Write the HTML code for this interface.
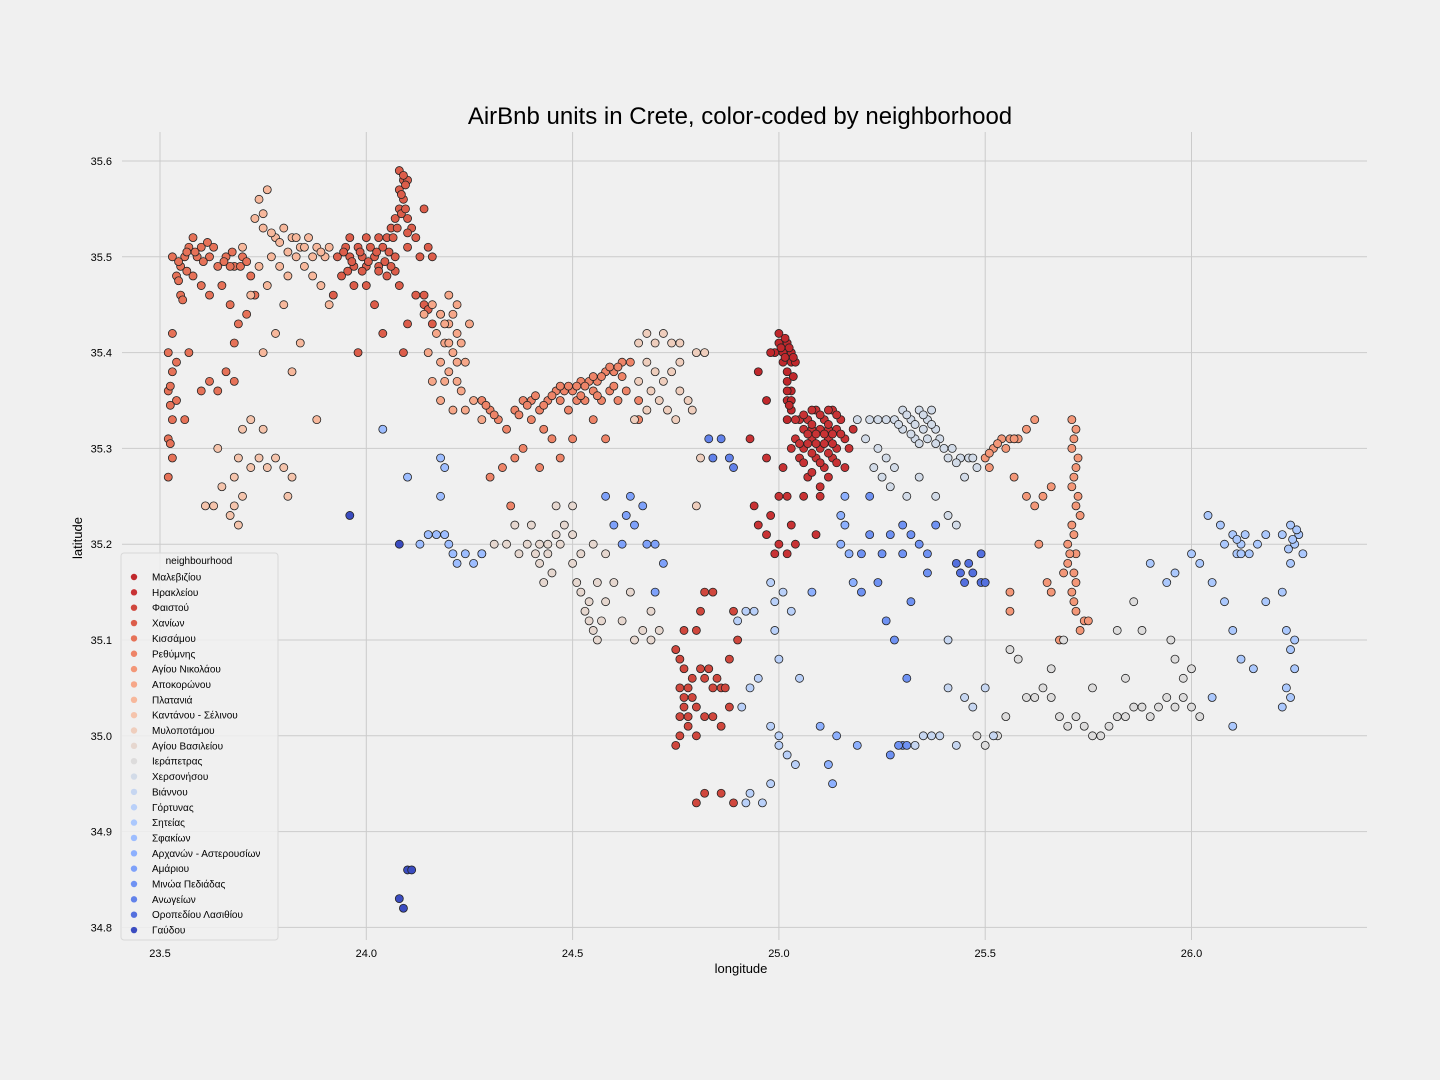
<!DOCTYPE html>
<html><head><meta charset="utf-8">
<style>
html,body{margin:0;padding:0;background:#f0f0f0;}
svg{display:block;font-family:"Liberation Sans","DejaVu Sans",sans-serif;}
</style></head>
<body>
<svg id="chart" width="1440" height="1080" viewBox="0 0 1440 1080">
<rect x="0" y="0" width="1440" height="1080" fill="#f0f0f0"/>
<text x="740" y="124" text-anchor="middle" font-size="24" fill="#000">AirBnb units in Crete, color-coded by neighborhood</text>
<g id="grid"></g>
<g id="ticks"></g>
<g id="points"></g>
<text x="741" y="973" text-anchor="middle" font-size="13" fill="#000">longitude</text>
<text x="82" y="538" text-anchor="middle" font-size="13" fill="#000" transform="rotate(-90 82 538)">latitude</text>
<g id="legend"></g>
</svg>
<script>
const names = ["Μαλεβιζίου","Ηρακλείου","Φαιστού","Χανίων","Κισσάμου","Ρεθύμνης","Αγίου Νικολάου","Αποκορώνου","Πλατανιά","Καντάνου - Σέλινου","Μυλοποτάμου","Αγίου Βασιλείου","Ιεράπετρας","Χερσονήσου","Βιάννου","Γόρτυνας","Σητείας","Σφακίων","Αρχανών - Αστερουσίων","Αμάριου","Μινώα Πεδιάδας","Ανωγείων","Οροπεδίου Λασιθίου","Γαύδου"];
const colors = ["#c0282c","#c83234","#d0473d","#dc5d4a","#e67258","#ee8468","#f39778","#f6a789","#f7b89c","#f5c4ac","#efcebd","#e6d7cf","#dddcdc","#d2dbe8","#c6d6f1","#b9d0f9","#abc8fd","#9dbdff","#8db0fe","#7ea1fa","#6f92f3","#6282ea","#5470de","#3b4cc0"];
const xTicks = [23.5,24.0,24.5,25.0,25.5,26.0];
const yTicks = [34.8,34.9,35.0,35.1,35.2,35.3,35.4,35.5,35.6];
const g0 = [25.00,35.41,25.01,35.40,25.02,35.41,25.03,35.40,25.01,35.39,25.03,35.39,24.99,35.40,25.02,35.37,25.03,35.36,25.02,35.35,25.03,35.34,25.02,35.33,24.98,35.40,24.95,35.38,24.97,35.35,25.04,35.39,25.00,35.42,25.02,35.38,25.005,35.405,25.015,35.395,25.025,35.405,25.035,35.395,25.015,35.415,25.02,35.36,25.03,35.35,25.025,35.345,25.035,35.375];
const g1 = [25.05,35.33,25.07,35.33,25.09,35.34,25.11,35.33,25.13,35.34,25.15,35.33,25.06,35.32,25.08,35.32,25.10,35.32,25.12,35.32,25.14,35.32,25.16,35.31,25.04,35.31,25.06,35.30,25.08,35.31,25.10,35.30,25.12,35.31,25.14,35.30,25.03,35.30,25.05,35.29,25.09,35.29,25.11,35.28,25.13,35.29,25.16,35.28,25.07,35.27,25.10,35.26,25.12,35.27,25.17,35.30,25.18,35.32,25.00,35.25,24.98,35.23,24.97,35.21,25.00,35.20,25.02,35.19,24.99,35.19,25.03,35.22,25.02,35.25,24.94,35.24,24.95,35.22,25.04,35.20,25.06,35.25,25.10,35.25,25.09,35.21,25.01,35.28,24.93,35.31,24.97,35.29,25.04,35.33,25.08,35.34,25.12,35.34,25.06,35.335,25.08,35.325,25.10,35.335,25.12,35.325,25.14,35.335,25.07,35.315,25.09,35.315,25.11,35.315,25.13,35.315,25.15,35.315,25.07,35.305,25.09,35.305,25.11,35.305,25.13,35.305,25.05,35.305,25.08,35.295,25.12,35.295,25.06,35.285,25.10,35.285,25.14,35.285,25.08,35.275];
const g2 = [24.75,35.09,24.76,35.08,24.77,35.07,24.78,35.05,24.76,35.05,24.77,35.03,24.76,35.02,24.78,35.02,24.79,35.04,24.80,35.03,24.78,35.01,24.76,35.00,24.75,34.99,24.81,35.07,24.82,35.06,24.83,35.07,24.84,35.05,24.85,35.06,24.86,35.05,24.87,35.05,24.82,35.02,24.80,35.00,24.84,35.02,24.86,35.01,24.88,35.03,24.81,35.13,24.82,35.15,24.84,35.15,24.80,35.11,24.77,35.11,24.80,34.93,24.82,34.94,24.86,34.94,24.89,34.93,24.88,35.08,24.90,35.10,24.89,35.13,24.77,35.04,24.79,35.06];
const g3 = [23.93,35.50,23.95,35.51,23.96,35.50,23.97,35.49,23.98,35.51,23.99,35.50,24.00,35.49,24.01,35.51,24.02,35.50,24.03,35.49,24.04,35.51,24.05,35.52,24.06,35.53,24.07,35.54,24.08,35.55,24.09,35.56,24.08,35.57,24.09,35.58,24.08,35.59,24.10,35.54,24.11,35.53,24.10,35.51,24.12,35.52,24.14,35.55,24.15,35.51,24.16,35.50,24.13,35.50,23.94,35.48,23.97,35.47,24.00,35.47,24.05,35.48,24.08,35.47,23.92,35.46,24.02,35.45,24.04,35.42,24.10,35.43,24.12,35.46,24.14,35.45,24.16,35.43,24.18,35.44,23.98,35.40,24.09,35.40,23.96,35.52,24.00,35.52,24.03,35.52,24.07,35.50,24.10,35.58,23.945,35.505,23.965,35.495,23.985,35.505,24.005,35.495,24.025,35.505,24.045,35.495,24.065,35.52,24.075,35.53,24.085,35.545,24.095,35.55,24.085,35.565,24.095,35.575,24.09,35.585,24.055,35.505,23.955,35.485,23.99,35.485,24.03,35.485,24.07,35.485,24.06,35.49,24.10,35.525,24.14,35.46,24.15,35.445];
const g4 = [23.53,35.50,23.54,35.48,23.55,35.49,23.56,35.50,23.57,35.51,23.58,35.52,23.60,35.51,23.62,35.50,23.64,35.49,23.66,35.50,23.68,35.49,23.70,35.50,23.72,35.48,23.58,35.48,23.60,35.47,23.62,35.46,23.65,35.47,23.67,35.45,23.69,35.43,23.71,35.44,23.55,35.46,23.53,35.42,23.52,35.40,23.53,35.38,23.52,35.36,23.54,35.35,23.53,35.33,23.52,35.31,23.53,35.29,23.52,35.27,23.54,35.39,23.57,35.40,23.60,35.36,23.62,35.37,23.64,35.36,23.66,35.38,23.68,35.37,23.56,35.33,23.68,35.41,23.73,35.46,23.59,35.50,23.63,35.51,23.67,35.49,23.545,35.495,23.565,35.505,23.585,35.505,23.605,35.495,23.615,35.515,23.565,35.485,23.545,35.475,23.655,35.495,23.675,35.505,23.695,35.49,23.71,35.495,23.555,35.455,23.525,35.365,23.525,35.345,23.525,35.305];
const g5 = [24.28,35.35,24.30,35.34,24.32,35.33,24.34,35.32,24.36,35.34,24.38,35.35,24.40,35.35,24.42,35.34,24.44,35.35,24.46,35.36,24.48,35.36,24.50,35.36,24.52,35.37,24.54,35.37,24.56,35.37,24.58,35.38,24.60,35.38,24.62,35.39,24.64,35.39,24.47,35.35,24.51,35.35,24.55,35.36,24.59,35.36,24.61,35.35,24.63,35.36,24.40,35.33,24.43,35.32,24.45,35.31,24.38,35.30,24.36,35.29,24.33,35.28,24.30,35.27,24.42,35.28,24.47,35.29,24.50,35.31,24.55,35.33,24.58,35.31,24.66,35.33,24.66,35.35,24.35,35.24,24.53,35.35,24.57,35.35,24.49,35.34,24.45,35.355,24.47,35.365,24.49,35.365,24.51,35.365,24.53,35.365,24.55,35.375,24.57,35.375,24.59,35.385,24.61,35.385,24.52,35.355,24.56,35.355,24.60,35.365,24.43,35.345,24.41,35.355,24.39,35.345,24.37,35.335,24.31,35.335,24.29,35.345,24.62,35.375];
const g6 = [25.50,35.29,25.52,35.30,25.54,35.31,25.56,35.31,25.58,35.31,25.60,35.32,25.62,35.33,25.51,35.28,25.57,35.27,25.60,35.25,25.62,35.24,25.64,35.25,25.63,35.20,25.65,35.16,25.66,35.15,25.69,35.17,25.70,35.20,25.71,35.22,25.72,35.24,25.71,35.26,25.72,35.28,25.71,35.30,25.72,35.32,25.71,35.33,25.70,35.18,25.71,35.15,25.72,35.13,25.73,35.11,25.74,35.12,25.75,35.12,25.72,35.19,25.73,35.23,25.56,35.13,25.56,35.15,25.68,35.10,25.66,35.26,25.715,35.21,25.705,35.19,25.715,35.17,25.72,35.16,25.715,35.14,25.725,35.25,25.715,35.27,25.725,35.29,25.715,35.31,25.53,35.305,25.55,35.30,25.57,35.31,25.51,35.295];
const g7 = [24.14,35.44,24.16,35.45,24.18,35.44,24.20,35.43,24.22,35.45,24.17,35.42,24.19,35.41,24.21,35.40,24.23,35.41,24.18,35.39,24.20,35.38,24.22,35.37,24.24,35.39,24.16,35.37,24.18,35.35,24.21,35.34,24.23,35.36,24.25,35.43,24.15,35.40,24.26,35.35,24.24,35.34,24.28,35.33,24.20,35.46,24.22,35.42,24.19,35.43,24.21,35.44,24.20,35.41,24.22,35.39,24.19,35.37];
const g8 = [23.74,35.56,23.76,35.57,23.73,35.54,23.75,35.53,23.78,35.52,23.80,35.53,23.82,35.52,23.84,35.51,23.86,35.52,23.88,35.51,23.90,35.50,23.77,35.50,23.79,35.49,23.81,35.48,23.83,35.50,23.85,35.49,23.87,35.48,23.89,35.47,23.91,35.45,23.76,35.47,23.74,35.49,23.80,35.45,23.78,35.42,23.82,35.38,23.84,35.41,23.72,35.46,23.75,35.40,23.88,35.33,23.70,35.51,23.79,35.515,23.81,35.505,23.83,35.52,23.85,35.51,23.87,35.50,23.89,35.505,23.91,35.51,23.77,35.525,23.75,35.545];
const g9 = [23.67,35.23,23.68,35.24,23.69,35.22,23.70,35.25,23.65,35.26,23.63,35.24,23.61,35.24,23.72,35.28,23.74,35.29,23.76,35.28,23.78,35.29,23.80,35.28,23.81,35.25,23.70,35.32,23.72,35.33,23.75,35.32,23.68,35.27,23.64,35.30,23.82,35.27,23.69,35.29];
const g10 = [24.66,35.41,24.68,35.42,24.70,35.41,24.72,35.42,24.74,35.41,24.76,35.41,24.68,35.39,24.70,35.38,24.72,35.37,24.74,35.38,24.69,35.36,24.71,35.35,24.73,35.34,24.76,35.39,24.76,35.36,24.78,35.35,24.66,35.37,24.68,35.34,24.75,35.33,24.80,35.40,24.82,35.40,24.79,35.34,24.65,35.33,24.81,35.29,24.80,35.24];
const g11 = [24.28,35.19,24.31,35.20,24.34,35.20,24.37,35.19,24.39,35.20,24.41,35.19,24.42,35.18,24.44,35.19,24.45,35.17,24.43,35.16,24.46,35.21,24.48,35.22,24.50,35.21,24.50,35.18,24.52,35.15,24.53,35.13,24.54,35.12,24.55,35.11,24.56,35.10,24.57,35.12,24.58,35.14,24.60,35.16,24.52,35.19,24.55,35.20,24.58,35.19,24.50,35.24,24.46,35.24,24.62,35.12,24.65,35.10,24.67,35.11,24.69,35.10,24.71,35.11,24.69,35.13,24.64,35.15,24.36,35.22,24.40,35.22,24.56,35.16,24.42,35.20,24.44,35.20,24.47,35.20,24.51,35.16,24.54,35.14];
const g12 = [25.56,35.09,25.58,35.08,25.60,35.04,25.62,35.04,25.64,35.05,25.66,35.04,25.68,35.02,25.70,35.01,25.72,35.02,25.74,35.01,25.76,35.00,25.78,35.00,25.80,35.01,25.82,35.02,25.84,35.02,25.86,35.03,25.88,35.03,25.90,35.02,25.92,35.03,25.94,35.04,25.96,35.03,25.98,35.04,26.00,35.03,26.02,35.02,25.55,35.02,25.53,35.00,25.50,34.99,25.48,35.00,25.66,35.07,25.69,35.10,25.76,35.05,25.82,35.11,25.84,35.06,25.86,35.14,25.88,35.11,25.96,35.08,25.98,35.06,26.00,35.07,25.95,35.10];
const g13 = [25.22,35.33,25.24,35.33,25.26,35.33,25.28,35.33,25.30,35.34,25.32,35.33,25.34,35.34,25.36,35.33,25.38,35.32,25.30,35.32,25.33,35.31,25.36,35.31,25.39,35.31,25.40,35.30,25.42,35.30,25.44,35.29,25.46,35.29,25.48,35.28,25.45,35.27,25.24,35.30,25.26,35.29,25.25,35.27,25.23,35.28,25.28,35.28,25.34,35.27,25.38,35.25,25.41,35.23,25.43,35.22,25.21,35.31,25.27,35.26,25.31,35.25,25.19,35.33,25.35,35.32,25.37,35.34,25.31,35.335,25.33,35.325,25.35,35.335,25.37,35.325,25.29,35.325,25.32,35.315,25.34,35.305,25.38,35.305,25.41,35.29,25.43,35.285,25.47,35.29];
const g14 = [25.35,35.00,25.37,35.00,25.39,35.00,25.41,35.05,25.43,34.99,25.45,35.04,25.47,35.03,25.33,34.99,25.50,35.05,25.41,35.10,25.52,35.00];
const g15 = [24.90,35.12,24.92,35.13,24.94,35.13,24.95,35.06,24.93,35.05,24.91,35.03,24.98,35.01,25.00,35.00,25.02,34.98,24.99,35.14,25.01,35.15,25.03,35.13,24.92,34.93,24.93,34.94,24.96,34.93,24.98,34.95,25.00,34.99,25.04,34.97,25.05,35.06,24.99,35.11,24.98,35.16,25.00,35.08];
const g16 = [26.04,35.23,26.07,35.22,26.08,35.20,26.10,35.21,26.12,35.20,26.14,35.19,26.16,35.20,26.18,35.21,26.22,35.21,26.24,35.22,26.25,35.20,26.26,35.21,26.27,35.19,26.24,35.18,26.22,35.15,26.23,35.11,26.24,35.09,26.25,35.07,26.23,35.05,26.24,35.04,26.22,35.03,26.15,35.07,26.12,35.08,26.10,35.11,26.08,35.14,26.05,35.16,26.02,35.18,26.00,35.19,25.96,35.17,25.94,35.16,25.90,35.18,26.18,35.14,26.05,35.04,26.10,35.01,26.11,35.19,26.13,35.21,26.25,35.10,26.245,35.205,26.255,35.215,26.235,35.195,26.11,35.205,26.12,35.19];
const g17 = [24.18,35.29,24.19,35.28,24.18,35.25,24.19,35.21,24.20,35.20,24.21,35.19,24.22,35.18,24.24,35.19,24.26,35.18,24.28,35.19,24.17,35.21,24.15,35.21,24.13,35.20,24.10,35.27,24.04,35.32];
const g18 = [25.15,35.23,25.16,35.22,25.15,35.20,25.17,35.19,25.16,35.25,25.14,35.00,25.13,34.95,25.10,35.01,25.12,34.97,25.19,34.99,25.08,35.15,25.18,35.16];
const g19 = [24.64,35.25,24.63,35.23,24.65,35.22,24.67,35.24,24.68,35.20,24.70,35.20,24.58,35.25,24.62,35.20,24.70,35.15,24.72,35.18,24.60,35.22];
const g20 = [25.20,35.19,25.22,35.21,25.25,35.19,25.27,35.21,25.30,35.22,25.32,35.21,25.34,35.20,25.36,35.19,25.38,35.22,25.26,35.12,25.24,35.16,25.20,35.15,25.28,35.10,25.32,35.14,25.36,35.17,25.30,35.19,25.22,35.25,25.27,34.98,25.30,34.99,25.31,35.06,25.29,34.99,25.31,34.99];
const g21 = [24.84,35.29,24.88,35.29,24.86,35.31,24.89,35.28,24.83,35.31];
const g22 = [25.43,35.18,25.44,35.17,25.45,35.16,25.47,35.17,25.49,35.19,25.49,35.16,25.46,35.18,25.50,35.16];
const g23 = [24.10,34.86,24.11,34.86,24.08,34.83,24.09,34.82,23.96,35.23,24.08,35.20];
const groups = [g0,g1,g2,g3,g4,g5,g6,g7,g8,g9,g10,g11,g12,g13,g14,g15,g16,g17,g18,g19,g20,g21,g22,g23];

const NS = "http://www.w3.org/2000/svg";
const PL = 122, PR = 1367, PT = 132, PB = 940;
function xScale(v){ return 160 + (v - 23.5) * 412.6; }
function yScale(v){ return 161 + (35.6 - v) * 958; }
function mk(tag, attrs, parent){ const e = document.createElementNS(NS, tag); for (const k in attrs) e.setAttribute(k, attrs[k]); parent.appendChild(e); return e; }

const grid = document.getElementById('grid');
const ticks = document.getElementById('ticks');
xTicks.forEach(t => {
  const x = xScale(t);
  const l = mk('line', {x1:x, x2:x, y1:PT, y2:PB, stroke:'#cbcbcb', 'stroke-width':1}, grid);
  
  
  const tx = mk('text', {x:x, y:PB+17, 'text-anchor':'middle', 'font-size':11, fill:'#000'}, ticks);
  tx.textContent = t.toFixed(1);
  
  
});
yTicks.forEach(t => {
  const y = yScale(t);
  const l = mk('line', {x1:PL, x2:PR, y1:y, y2:y, stroke:'#cbcbcb', 'stroke-width':1}, grid);
  
  
  const tx = mk('text', {x:PL-10, y:y+4, 'text-anchor':'end', 'font-size':11, fill:'#000'}, ticks);
  tx.textContent = t.toFixed(1);
  
  
});

const pts = document.getElementById('points');
groups.forEach((arr, gi) => {
  const g = mk('g', {}, pts);
  
  
  for (let i = 0; i < arr.length; i += 2) {
    const c = mk('circle', {cx:xScale(arr[i]), cy:yScale(arr[i+1]), r:4, fill:colors[gi], stroke:'#222', 'stroke-width':0.8}, g);
    
    
  }
});

const leg = document.getElementById('legend');
const box = mk('rect', {x:121, y:553, width:157, height:387, rx:3, fill:'#f0f0f0', 'fill-opacity':0.85, stroke:'#d8d8d8'}, leg);


const lt = mk('text', {x:199, y:564, 'text-anchor':'middle', 'font-size':10, fill:'#000'}, leg);
lt.textContent = 'neighbourhood';


names.forEach((n, i) => {
  const y = 577 + i * 15.35;
  const g = mk('g', {}, leg);
  
  
  mk('circle', {cx:134, cy:y, r:3.2, fill:colors[i]}, g);
  const t = mk('text', {x:152, y:y+3.5, 'font-size':10, fill:'#000'}, g);
  t.textContent = n;
});
</script>
</body></html>
